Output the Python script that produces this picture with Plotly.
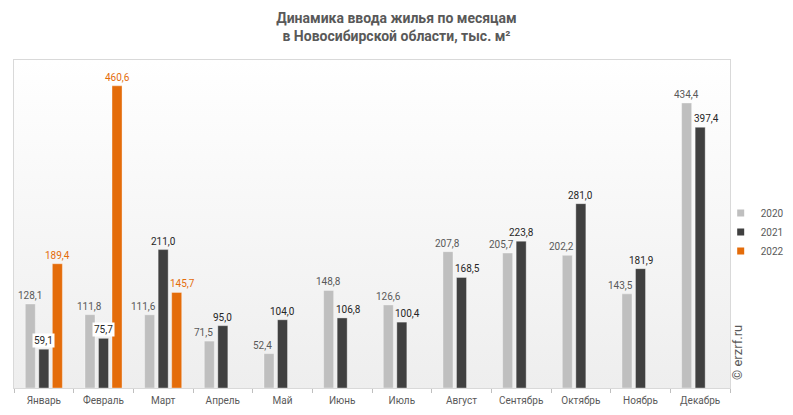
import base64
import plotly.graph_objects as go

months = ["Январь", "Февраль", "Март", "Апрель", "Май", "Июнь", "Июль",
          "Август", "Сентябрь", "Октябрь", "Ноябрь", "Декабрь"]
v2020 = [128.1, 111.8, 111.6, 71.5, 52.4, 148.8, 126.6, 207.8, 205.7, 202.2, 143.5, 434.4]
v2021 = [59.1, 75.7, 211.0, 95.0, 104.0, 106.8, 100.4, 168.5, 223.8, 281.0, 181.9, 397.4]
v2022 = [189.4, 460.6, 145.7, None, None, None, None, None, None, None, None, None]

series = [
    ("2020", v2020, "#bfbfbf", "#595959"),
    ("2021", v2021, "#404040", "#262626"),
    ("2022", v2022, "#e46c0a", "#e46c0a"),
]

FONT = "Roboto, Arial, sans-serif"
W, H = 793, 415
ML, MR, MT, MB = 14, 63, 60, 27
BARGAP, BARGROUPGAP = 0.32, 0.26
plot_w = W - ML - MR
plot_h = H - MT - MB
slot = plot_w / len(months) * (1 - BARGAP) / len(series)
NUDGE = 6

fig = go.Figure()
for name, vals, col, tcol in series:
    fig.add_trace(go.Bar(
        x=months, y=vals, name=name, showlegend=False,
        marker=dict(color=col, line=dict(color="rgba(255,255,255,0.35)", width=1)),
        cliponaxis=False, hoverinfo="skip",
    ))
for name, vals, col, tcol in series:
    fig.add_trace(go.Scatter(
        x=[None], y=[None], mode="markers", name=name,
        marker=dict(symbol="square", size=7, color=col),
    ))


def taller(a, b):
    return b is not None and b > a


annotations = []
n = len(series)
for k, (name, vals, col, tcol) in enumerate(series):
    base = (k - (n - 1) / 2) * slot
    left_vals = series[k - 1][1] if k > 0 else [None] * len(months)
    right_vals = series[k + 1][1] if k < n - 1 else [None] * len(months)
    for m, v, lv, rv in zip(months, vals, left_vals, right_vals):
        if v is None:
            continue
        L, R = taller(v, lv), taller(v, rv)
        nudge = NUDGE if (L and not R) else (-NUDGE if (R and not L) else 0)
        annotations.append(dict(
            x=m, y=v, xref="x", yref="y", text=f"{v:.1f}".replace(".", ","),
            showarrow=False, xanchor="center", yanchor="bottom",
            xshift=base + nudge, yshift=1,
            bgcolor="white" if (L and R) else None,
            font=dict(family=FONT, size=10, color=tcol)))
annotations.append(dict(text="© erzrf.ru", textangle=-90, xref="paper", yref="paper",
                        x=(737 - ML) / plot_w, y=(H - MB - 353) / plot_h,
                        xanchor="center", yanchor="middle", showarrow=False,
                        font=dict(family=FONT, size=13, color="#595959")))

svg = ('<svg xmlns="http://www.w3.org/2000/svg" width="100" height="100" preserveAspectRatio="none">'
       '<defs><linearGradient id="g" x1="0" y1="0" x2="0" y2="1">'
       '<stop offset="0" stop-color="#ffffff"/><stop offset="1" stop-color="#eeeeee"/>'
       '</linearGradient></defs><rect width="100" height="100" fill="url(#g)"/></svg>')
src = "data:image/svg+xml;base64," + base64.b64encode(svg.encode()).decode()

fig.update_layout(
    width=W, height=H,
    margin=dict(l=ML, r=MR, t=MT, b=MB, autoexpand=False),
    paper_bgcolor="white", plot_bgcolor="rgba(0,0,0,0)",
    separators=", ",
    barmode="group", bargap=BARGAP, bargroupgap=BARGROUPGAP,
    font=dict(family=FONT, color="#595959"),
    title=dict(text="<b>Динамика ввода жилья по месяцам<br>в Новосибирской области, тыс. м²</b>",
               x=0.5, xanchor="center", y=0.945, yanchor="top",
               font=dict(family=FONT, size=14, color="#595959")),
    legend=dict(x=0.987, xanchor="left", y=(H - MB - 232) / plot_h, yanchor="middle",
                font=dict(family=FONT, size=10, color="#595959"),
                itemwidth=30, tracegroupgap=0, bgcolor="rgba(0,0,0,0)"),
    images=[dict(source=src, xref="paper", yref="paper", x=0, y=1, sizex=1, sizey=1,
                 xanchor="left", yanchor="top", sizing="stretch", layer="below")],
    annotations=annotations,
)
fig.update_xaxes(type="category", showline=True, mirror=True, linecolor="#d9d9d9", linewidth=1,
                 ticks="outside", tickson="boundaries", ticklen=4, tickcolor="#bfbfbf",
                 ticklabelstandoff=3,
                 tickfont=dict(family=FONT, size=10, color="#595959"), showgrid=False)
fig.update_yaxes(range=[0, 500], showline=True, mirror=True, linecolor="#d9d9d9", linewidth=1,
                 showticklabels=False, showgrid=False, zeroline=False, ticks="")

fig.write_html("out.html")
